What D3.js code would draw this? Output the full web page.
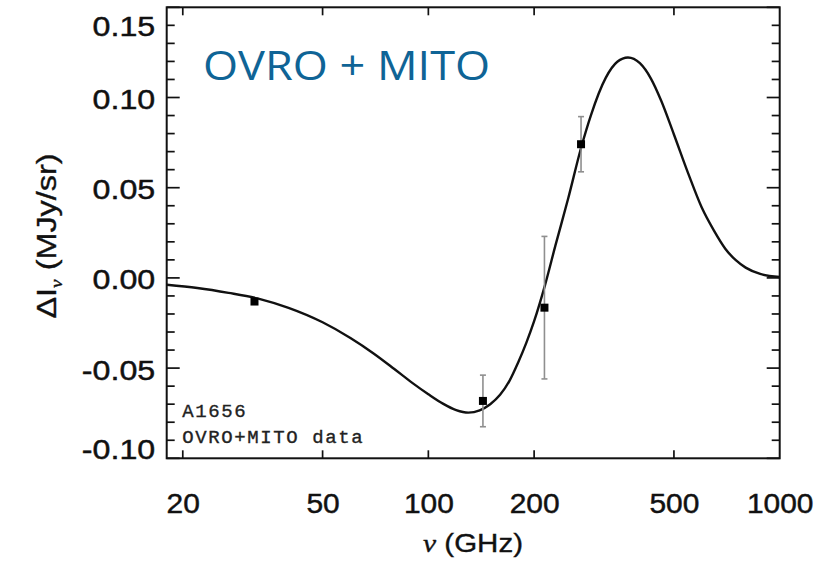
<!DOCTYPE html>
<html>
<head>
<meta charset="utf-8">
<script src="https://cdn.jsdelivr.net/npm/d3@7"></script>
<style>
  html, body { margin: 0; padding: 0; background: #fff; }
  svg { display: block; }
</style>
</head>
<body>
<svg id="chart" width="832" height="570"></svg>
<script>
// ---- data ----
const curveFreq = [18, 22, 27, 33, 40, 50, 60, 70, 80, 90, 100, 110, 120, 130, 140, 150, 160, 170, 180, 190, 200, 215, 230, 250, 272, 290, 320, 345, 370, 400, 430, 460, 500, 550, 600, 650, 700, 750, 800, 880, 1000];
const curveVal  = [-0.0038, -0.0056, -0.0083, -0.0116, -0.0166, -0.0246, -0.0333, -0.0420, -0.0505, -0.0582, -0.0645, -0.0697, -0.0733, -0.0747, -0.0734, -0.0700, -0.0648, -0.0572, -0.0470, -0.0360, -0.0240, -0.0037, 0.0180, 0.0440, 0.0720, 0.0900, 0.1110, 0.1198, 0.1222, 0.1190, 0.1105, 0.0982, 0.0795, 0.0575, 0.0390, 0.0262, 0.0162, 0.0098, 0.0057, 0.0022, 0.0005];

const pointFreq = [32, 143, 214, 272];
const pointVal  = [-0.0131, -0.0682, -0.0165, 0.0741];
const pointErr  = [0.0015, 0.0143, 0.0395, 0.0153];

const xTickValues = [20, 50, 100, 200, 500, 1000];
const xTickLabels = ["20", "50", "100", "200", "500", "1000"];
const yTickValues = [-0.10, -0.05, 0.00, 0.05, 0.10, 0.15];
const yTickLabels = ["-0.10", "-0.05", "0.00", "0.05", "0.10", "0.15"];

const xDomain = [18, 1000];
const yDomain = [-0.10, 0.15];

const xTitle = "(GHz)";
const yTitleUnits = "(MJy/sr)";
const bannerText = "OVRO + MITO";
const noteLines = ["A1656", "OVRO+MITO data"];

// ---- layout ----
const svg = d3.select("#chart");
const L = 166.7, T = 7.3, R = 779.7, B = 458.3;
const SANS = "'Liberation Sans', Arial, Helvetica, sans-serif";

const x = d3.scaleLog().domain(xDomain).range([L, R]);
const y = d3.scaleLinear().domain(yDomain).range([B, T]);

const g = svg.append("g");

// minor + major y ticks (left & right, inward)
const yMinor = d3.range(-10, 16, 1).map(v => v / 100);
const tickG = g.append("g").attr("stroke", "#111").attr("stroke-width", 1.7);
yMinor.forEach(v => {
  const major = Math.round(v * 100) % 5 === 0;
  const len = major ? 13 : 8;
  tickG.append("line").attr("x1", L).attr("x2", L + len).attr("y1", y(v)).attr("y2", y(v));
  tickG.append("line").attr("x1", R).attr("x2", R - len).attr("y1", y(v)).attr("y2", y(v));
});
// x ticks (top & bottom, inward), no minor
xTickValues.slice(0, -1).forEach(v => {
  tickG.append("line").attr("x1", x(v)).attr("x2", x(v)).attr("y1", B).attr("y2", B - 8);
  tickG.append("line").attr("x1", x(v)).attr("x2", x(v)).attr("y1", T).attr("y2", T + 8);
});

// y tick labels via axis (horizontally widened like the reference)
const yAxis = d3.axisLeft(y).tickValues(yTickValues).tickSize(0).tickPadding(0)
  .tickFormat((d, i) => yTickLabels[i]);
const yAx = g.append("g").attr("transform", `translate(${L - 11.5},0)`).call(yAxis);
yAx.select(".domain").remove();
yAx.selectAll(".tick").each(function (d) {
  const t = d3.select(this).select("text");
  const dy = d >= 0.1499 ? 27.7 : (d <= -0.0999 ? 0 : 11);
  t.attr("x", 0).attr("y", 0).attr("dy", null)
    .attr("transform", `translate(0,${dy}) scale(1.15,1)`)
    .attr("font-family", SANS).attr("font-size", 28).attr("fill", "#111")
    .attr("stroke", "#111").attr("stroke-width", 0.45);
});

// x tick labels via axis
const xAxis = d3.axisBottom(x).tickValues(xTickValues).tickSize(0).tickPadding(0)
  .tickFormat((d, i) => xTickLabels[i]);
const xAx = g.append("g").attr("transform", `translate(0,${B})`).call(xAxis);
xAx.select(".domain").remove();
xAx.selectAll("text")
  .attr("font-family", SANS).attr("font-size", 28).attr("fill", "#111")
  .attr("stroke", "#111").attr("stroke-width", 0.45)
  .attr("dy", null).attr("y", 0)
  .attr("transform", "translate(0,55) scale(1.07,1)");

// frame
g.append("rect").attr("x", L).attr("y", T).attr("width", R - L).attr("height", B - T)
  .attr("fill", "none").attr("stroke", "#111").attr("stroke-width", 2);

// theory curve
const line = d3.line().x(d => x(d[0])).y(d => y(d[1])).curve(d3.curveMonotoneX);
g.append("path")
  .datum(curveFreq.map((f, i) => [f, curveVal[i]]))
  .attr("d", line).attr("fill", "none").attr("stroke", "#111").attr("stroke-width", 2.4);

// error bars
const pts = pointFreq.map((f, i) => ({ f, v: pointVal[i], e: pointErr[i] }));
const eb = g.append("g").attr("stroke", "#8f8f8f").attr("stroke-width", 1.6);
pts.forEach(p => {
  eb.append("line").attr("x1", x(p.f)).attr("x2", x(p.f)).attr("y1", y(p.v - p.e)).attr("y2", y(p.v + p.e));
  [p.v - p.e, p.v + p.e].forEach(v => {
    eb.append("line").attr("x1", x(p.f) - 3).attr("x2", x(p.f) + 3).attr("y1", y(v)).attr("y2", y(v));
  });
});
// markers
g.append("g").selectAll("rect").data(pts).join("rect")
  .attr("x", d => x(d.f) - 4).attr("y", d => y(d.v) - 4)
  .attr("width", 8).attr("height", 8).attr("fill", "#000");

// note text
const note = g.append("g")
  .attr("font-family", "'Liberation Mono', 'Courier New', monospace")
  .attr("font-size", 19).attr("fill", "#222").attr("letter-spacing", "1.6px")
  .attr("stroke", "#222").attr("stroke-width", 0.35);
note.append("text").attr("x", x(20) - 0.5).attr("y", 416.7).text(noteLines[0]);
note.append("text").attr("x", x(20) - 0.5).attr("y", 443.3).text(noteLines[1]);

// banner
g.append("text").attr("transform", "translate(203,80) scale(1.1,1)")
  .attr("font-family", "'Open Sans', 'Noto Sans', sans-serif")
  .attr("font-size", 41).attr("fill", "#0f6496")
  .text(bannerText);

// axis titles
const xt = g.append("text").attr("transform", "translate(473,552) scale(1.18,1)").attr("text-anchor", "middle")
  .attr("font-family", SANS).attr("font-size", 25).attr("fill", "#111")
  .attr("stroke", "#111").attr("stroke-width", 0.35);
xt.append("tspan").attr("font-family", "'Liberation Serif', 'Times New Roman', serif").attr("font-style", "italic").text("ν");
xt.append("tspan").text(" " + xTitle);

const yt = g.append("text").attr("transform", "translate(56,236) rotate(-90) scale(1.2,1)").attr("text-anchor", "middle")
  .attr("font-family", SANS).attr("font-size", 27).attr("fill", "#111")
  .attr("stroke", "#111").attr("stroke-width", 0.35);
yt.append("tspan").text("ΔI");
yt.append("tspan").attr("font-size", 16).attr("dy", 6).attr("font-family", "'Liberation Serif', serif").attr("font-style", "italic").text("ν");
yt.append("tspan").attr("dy", -6).text(" " + yTitleUnits);
</script>
</body>
</html>
